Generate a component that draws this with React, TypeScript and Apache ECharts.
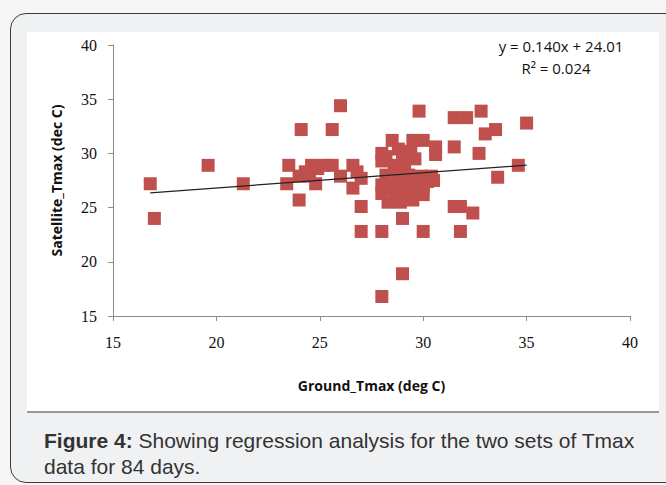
import React, { useEffect, useRef } from "react";
import * as echarts from "echarts";

const groundTmax = [
  16.8, 17.0, 19.6, 21.3,
  23.5, 24.6, 25.2, 25.6, 26.6, 24.3, 26.8, 23.4, 24.0, 24.5, 24.8, 26.0, 27.0, 26.6, 24.0, 27.0,
  26.0, 24.1, 25.6, 27.0, 28.0, 29.0, 28.0, 29.0, 30.0,
  28.5, 29.5, 30.0, 30.6, 30.6, 28.0, 28.0, 29.0, 29.4, 28.6, 29.1, 28.2, 28.7, 29.3, 29.9, 30.4,
  28.0, 28.6, 29.3, 30.0, 28.0, 28.7, 29.4, 30.0, 28.3, 28.9, 29.5,
  29.8, 31.5, 32.1, 32.8, 35.0, 33.5, 33.0, 31.5, 32.7, 34.6, 33.6, 31.5, 31.8, 32.4, 31.8,
  28.2, 29.6, 28.8, 29.2, 28.4, 29.7, 28.9, 29.8, 30.2, 28.5, 24.9, 29.0, 30.5,
];
const satelliteTmax = [
  27.2, 24.0, 28.9, 27.2,
  28.9, 28.9, 28.9, 28.9, 28.9, 28.3, 28.3, 27.2, 27.9, 27.9, 27.2, 27.9, 27.7, 26.8, 25.7, 25.1,
  34.4, 32.2, 32.2, 22.8, 22.8, 18.9, 16.8, 24.0, 22.8,
  31.2, 31.2, 31.2, 30.6, 29.9, 30.0, 29.3, 29.9, 30.2, 28.9, 28.9, 28.0, 28.2, 28.0, 27.9, 27.9,
  27.1, 27.1, 27.1, 26.9, 26.3, 26.2, 26.3, 26.2, 25.5, 25.5, 25.7,
  33.9, 33.3, 33.3, 33.9, 32.8, 32.2, 31.8, 30.6, 30.0, 28.9, 27.8, 25.1, 25.1, 24.5, 22.8,
  29.7, 29.5, 30.4, 27.6, 26.7, 27.2, 26.6, 26.6, 27.4, 27.6, 28.6, 25.9, 27.5,
];
const trendSlope = 0.14;
const trendIntercept = 24.01;
const xTicks = [15, 20, 25, 30, 35, 40];
const yTicks = [15, 20, 25, 30, 35, 40];
const equationLines = ["y = 0.140x + 24.01", "R² = 0.024"];
const xTitle = "Ground_Tmax (deg C)";
const yTitle = "Satellite_Tmax (dec C)";
const captionBold = "Figure 4:";
const captionLine1 = " Showing regression analysis for the two sets of Tmax";
const captionLine2 = "data for 84 days.";

const sans = "'Open Sans', 'Noto Sans', sans-serif";
const serif = "'Liberation Serif', 'DejaVu Serif', serif";
const arial = "'Liberation Sans', Arial, sans-serif";

export default function App() {
  const ref = useRef<HTMLDivElement>(null);
  useEffect(() => {
    if (!ref.current) return;
    const chart = echarts.init(ref.current, undefined, { renderer: "svg" });
    const points = groundTmax.map((g, i) => [g, satelliteTmax[i]]);
    const xMin = Math.min(...groundTmax);
    const xMax = Math.max(...groundTmax);
    const trend = [
      [xMin, trendSlope * xMin + trendIntercept],
      [xMax, trendSlope * xMax + trendIntercept],
    ];
    chart.setOption({
      animation: false,
      backgroundColor: "transparent",
      grid: { left: 113, top: 45, right: 36, bottom: 169, containLabel: false },
      xAxis: {
        type: "value",
        min: xTicks[0],
        max: xTicks[xTicks.length - 1],
        interval: 5,
        name: xTitle,
        nameLocation: "middle",
        nameGap: 62,
        nameTextStyle: { fontFamily: sans, fontWeight: "bold", fontSize: 14, color: "#111" },
        axisLine: { show: true, lineStyle: { color: "#8c8c8c", width: 1 } },
        axisTick: { show: true, inside: false, length: 5, lineStyle: { color: "#8c8c8c" } },
        axisLabel: { margin: 18, fontFamily: serif, fontSize: 16, color: "#111" },
        splitLine: { show: false },
      },
      yAxis: {
        type: "value",
        min: yTicks[0],
        max: yTicks[yTicks.length - 1],
        interval: 5,
        name: yTitle,
        nameLocation: "middle",
        nameRotate: 90,
        nameGap: 50,
        nameTextStyle: { fontFamily: sans, fontWeight: "bold", fontSize: 14, color: "#111" },
        axisLine: { show: true, lineStyle: { color: "#8c8c8c", width: 1 } },
        axisTick: { show: true, inside: false, length: 5, lineStyle: { color: "#8c8c8c" } },
        axisLabel: { margin: 16, fontFamily: serif, fontSize: 16, color: "#111" },
        splitLine: { show: false },
      },
      series: [
        {
          type: "scatter",
          data: points,
          symbol: "rect",
          symbolSize: 13,
          itemStyle: { color: "#C0504D", opacity: 1, borderWidth: 0 },
          z: 2,
        },
        {
          type: "line",
          data: trend,
          symbol: "none",
          lineStyle: { color: "#222", width: 1.3 },
          z: 3,
        },
      ],
      graphic: [
        {
          type: "text",
          x: 561,
          y: 46,
          style: {
            text: equationLines[0],
            fontFamily: sans,
            fontSize: 15,
            fill: "#111",
            align: "center",
            verticalAlign: "middle",
          },
        },
        {
          type: "text",
          x: 556,
          y: 68,
          style: {
            text: equationLines[1],
            fontFamily: sans,
            fontSize: 15,
            fill: "#111",
            align: "center",
            verticalAlign: "middle",
          },
        },
        {
          type: "text",
          x: 44,
          y: 440,
          style: {
            text: "{b|" + captionBold + "}" + captionLine1,
            rich: {
              b: { fontWeight: "bold", fontFamily: arial, fontSize: 21, fill: "#333" },
            },
            fontFamily: arial,
            fontSize: 21,
            fill: "#333",
            verticalAlign: "middle",
          },
        },
        {
          type: "text",
          x: 44,
          y: 466,
          style: {
            text: captionLine2,
            fontFamily: arial,
            fontSize: 21,
            fill: "#333",
            verticalAlign: "middle",
          },
        },
      ],
    });
    return () => chart.dispose();
  }, []);

  return (
    <div style={{ position: "absolute", left: 0, top: 0, width: 666, height: 485, background: "#f6f6f7", overflow: "hidden" }}>
      <div
        style={{
          position: "absolute",
          left: 10,
          top: 13,
          width: 690,
          height: 468,
          border: "1.5px solid #3c3c3c",
          borderRadius: 16,
          background: "#f0f1f3",
        }}
      />
      <div style={{ position: "absolute", left: 27, top: 32, width: 632, height: 379, background: "#ffffff" }} />
      <div style={{ position: "absolute", left: 27, top: 411, width: 632, height: 1.5, background: "#9a9a9a" }} />
      <div ref={ref} style={{ position: "absolute", left: 0, top: 0, width: 666, height: 485 }} />
    </div>
  );
}
